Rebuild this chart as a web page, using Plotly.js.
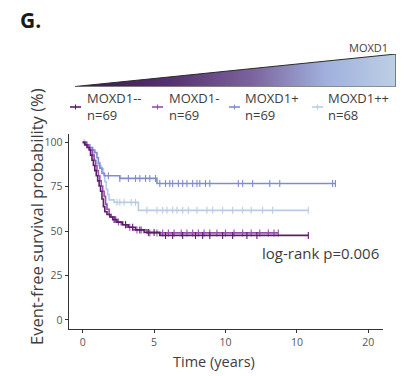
<!DOCTYPE html>
<html>
<head>
<meta charset="utf-8">
<script src="https://cdn.plot.ly/plotly-3.0.1.min.js"></script>
<style>html,body{margin:0;padding:0;background:#fff}#chart{width:404px;height:376px}</style>
</head>
<body>
<div id="chart"></div>
<script>
// ---- data ----
const groups = ["MOXD1--", "MOXD1-", "MOXD1+", "MOXD1++"];
const groupN = [69, 69, 69, 68];
const colors = ["#5a1d69", "#9a4cae", "#7f8ecb", "#b6cde8"];

// Kaplan-Meier step points (time in years, survival in %)
const timeDD = [0,0.15,0.3,0.45,0.55,0.65,0.75,0.85,0.95,1.05,1.15,1.25,1.35,1.45,1.55,1.7,1.9,2.1,2.4,2.8,3.2,3.7,4.3,5.4,15.8];
const survDD = [100,98.6,97.1,95.7,92.8,89.9,87.0,84.1,81.2,78.3,75.4,72.5,68.1,63.8,60.9,59.4,58.0,56.5,55.1,53.6,52.2,50.7,49.3,47.6,47.6];
const censDD = [2.2,3.0,3.5,4.0,4.6,5.0,5.8,6.3,7.0,7.9,8.4,8.9,9.8,10.5,11.5,12.2,15.8];

const timeD = [0,0.25,0.4,0.55,0.7,0.8,0.9,1.0,1.1,1.2,1.3,1.4,1.5,1.6,1.7,1.85,2.0,2.3,2.7,3.1,3.5,4.5,13.7];
const survD = [100,98.6,97.1,95.7,92.8,89.9,87.0,84.1,81.2,78.3,75.4,72.5,69.6,65.2,62.3,59.4,58.0,55.1,53.6,52.2,50.7,49.0,49.0];
const censD = [2.5,3.0,3.3,3.8,4.1,4.7,5.2,5.6,6.0,6.4,6.9,7.3,7.7,8.1,8.5,8.9,9.4,10.0,10.6,11.2,11.8,12.4,13.0,13.4,13.7];

const timeP = [0,0.3,0.5,0.7,0.85,1.0,1.1,1.2,1.35,1.5,2.6,5.2,17.7];
const survP = [100,98.6,97.1,95.7,94.2,91.3,88.4,85.5,82.6,81.2,79.7,76.8,76.8];
const censP = [1.8,2.6,3.2,3.7,4.0,4.4,4.7,5.1,5.4,5.8,6.1,6.3,6.7,7.0,7.3,7.7,8.0,8.2,8.6,8.9,10.9,11.2,11.9,13.1,13.8,17.5,17.7];

const timePP = [0,0.2,0.35,0.5,0.65,0.8,0.95,1.1,1.3,1.45,1.55,1.65,1.75,1.85,2.2,3.9,15.8];
const survPP = [100,98.6,97.1,95.6,92.6,89.7,88.2,86.8,85.3,82.4,77.9,73.5,70.6,67.6,66.2,61.7,61.7];
const censPP = [0.1,1.2,2.4,2.6,2.9,3.4,3.7,4.5,5.2,5.6,5.9,6.3,6.6,7.0,7.4,8.0,8.7,9.1,9.8,10.5,11.2,11.8,12.6,13.3,15.8];

const xTickVals = [0, 5, 10, 15, 20];
const xTickText = ["0", "5", "10", "10", "20"];
const yTickVals = [0, 25, 50, 75, 100];
const pValueText = "log-rank p=0.006";

// ---- helpers ----
function survAt(times, surv, t) {
  let v = surv[0];
  for (let i = 0; i < times.length; i++) { if (times[i] <= t) v = surv[i]; }
  return v;
}
const series = [
  {t: timePP, s: survPP, c: censPP, k: 3},
  {t: timeP,  s: survP,  c: censP,  k: 2},
  {t: timeD,  s: survD,  c: censD,  k: 1},
  {t: timeDD, s: survDD, c: censDD, k: 0}
];
const W = 404, H = 376;
const px = x => x / W, py = y => 1 - y / H;

const traces = [];
series.forEach(g => {
  traces.push({
    type: "scatter", mode: "lines", x: g.t, y: g.s, name: groups[g.k],
    line: {shape: "hv", color: colors[g.k], width: 1.6}, showlegend: false, hoverinfo: "skip"
  });
  traces.push({
    type: "scatter", mode: "markers", x: g.c, y: g.c.map(t => survAt(g.t, g.s, t)),
    marker: {symbol: "line-ns", size: 5, line: {width: 1.1, color: colors[g.k]}, color: colors[g.k]},
    showlegend: false, hoverinfo: "skip"
  });
});

// gradient triangle (MOXD1 expression scale)
traces.push({
  type: "scatter", mode: "lines", x: [0, 1, 1, 0], y: [0, 0, 1, 0], xaxis: "x2", yaxis: "y2",
  fill: "toself",
  fillgradient: {type: "horizontal", colorscale: [[0, "#3a1848"], [0.3, "#553272"], [0.55, "#7c639e"], [0.78, "#a0b0dd"], [1, "#bccfe4"]]},
  line: {color: "#2b2b2b", width: 1}, showlegend: false, hoverinfo: "skip"
});

// legend (manual, to match compact symbols)
const legSymX = [70, 152, 229, 312];
const legTxtX = [85, 167, 243, 326];
const shapes = [];
const annotations = [];
const txt = "#3d3d3d";
groups.forEach((g, i) => {
  shapes.push({type: "line", xref: "paper", yref: "paper", x0: px(legSymX[i]), x1: px(legSymX[i] + 11), y0: py(107), y1: py(107), line: {color: colors[i], width: 1.6}});
  shapes.push({type: "line", xref: "paper", yref: "paper", x0: px(legSymX[i] + 5.5), x1: px(legSymX[i] + 5.5), y0: py(104.5), y1: py(109.5), line: {color: colors[i], width: 1.1}});
  annotations.push({xref: "paper", yref: "paper", x: px(legTxtX[i]), y: py(107), xanchor: "left", yanchor: "middle", align: "left",
    text: g + "<br>n=" + groupN[i], showarrow: false, font: {size: 13, color: txt}});
});
annotations.push({xref: "paper", yref: "paper", x: px(18), y: py(20), xanchor: "left", yanchor: "middle", text: "<b>G.</b>", showarrow: false, font: {size: 21, color: "#1a1a1a"}});
annotations.push({xref: "paper", yref: "paper", x: px(390), y: py(47), xanchor: "right", yanchor: "middle", text: "MOXD1", showarrow: false, font: {size: 11, color: txt}});
annotations.push({xref: "x", yref: "y", x: 20.9, y: 37.5, xanchor: "right", yanchor: "middle", text: pValueText, showarrow: false, font: {size: 15, color: txt}});
annotations.push({xref: "paper", yref: "paper", x: px(214), y: py(361), xanchor: "center", yanchor: "middle", text: "Time (years)", showarrow: false, font: {size: 14.5, color: txt}});
annotations.push({xref: "paper", yref: "paper", x: px(36), y: py(217), xanchor: "center", yanchor: "middle", textangle: -90, text: "Event-free survival probability (%)", showarrow: false, font: {size: 16.5, color: txt}});

const layout = {
  width: W, height: H,
  margin: {l: 0, r: 0, t: 0, b: 0},
  paper_bgcolor: "#fff", plot_bgcolor: "#fff",
  font: {family: "'Open Sans', Lato, sans-serif", color: txt},
  showlegend: false,
  xaxis: {domain: [px(68.7), px(383)], range: [-0.98, 21.03], tickvals: xTickVals, ticktext: xTickText,
    showgrid: false, zeroline: false, showline: true, linecolor: "#333", linewidth: 1.1,
    ticks: "outside", ticklen: 3, tickcolor: "#333", tickfont: {size: 10.5, color: "#555"}, automargin: false, fixedrange: true},
  yaxis: {domain: [py(329), py(134)], range: [-5.1, 104.7], tickvals: yTickVals,
    showgrid: false, zeroline: false, showline: true, linecolor: "#333", linewidth: 1.1,
    ticks: "outside", ticklen: 3, tickcolor: "#333", tickfont: {size: 10.5, color: "#555"}, automargin: false, fixedrange: true},
  xaxis2: {domain: [px(75), px(396)], range: [0, 1], visible: false, fixedrange: true},
  yaxis2: {domain: [py(86.5), py(54)], range: [0, 1], visible: false, fixedrange: true},
  shapes: shapes,
  annotations: annotations
};

Plotly.newPlot("chart", traces, layout, {displayModeBar: false, staticPlot: true});
</script>
</body>
</html>
